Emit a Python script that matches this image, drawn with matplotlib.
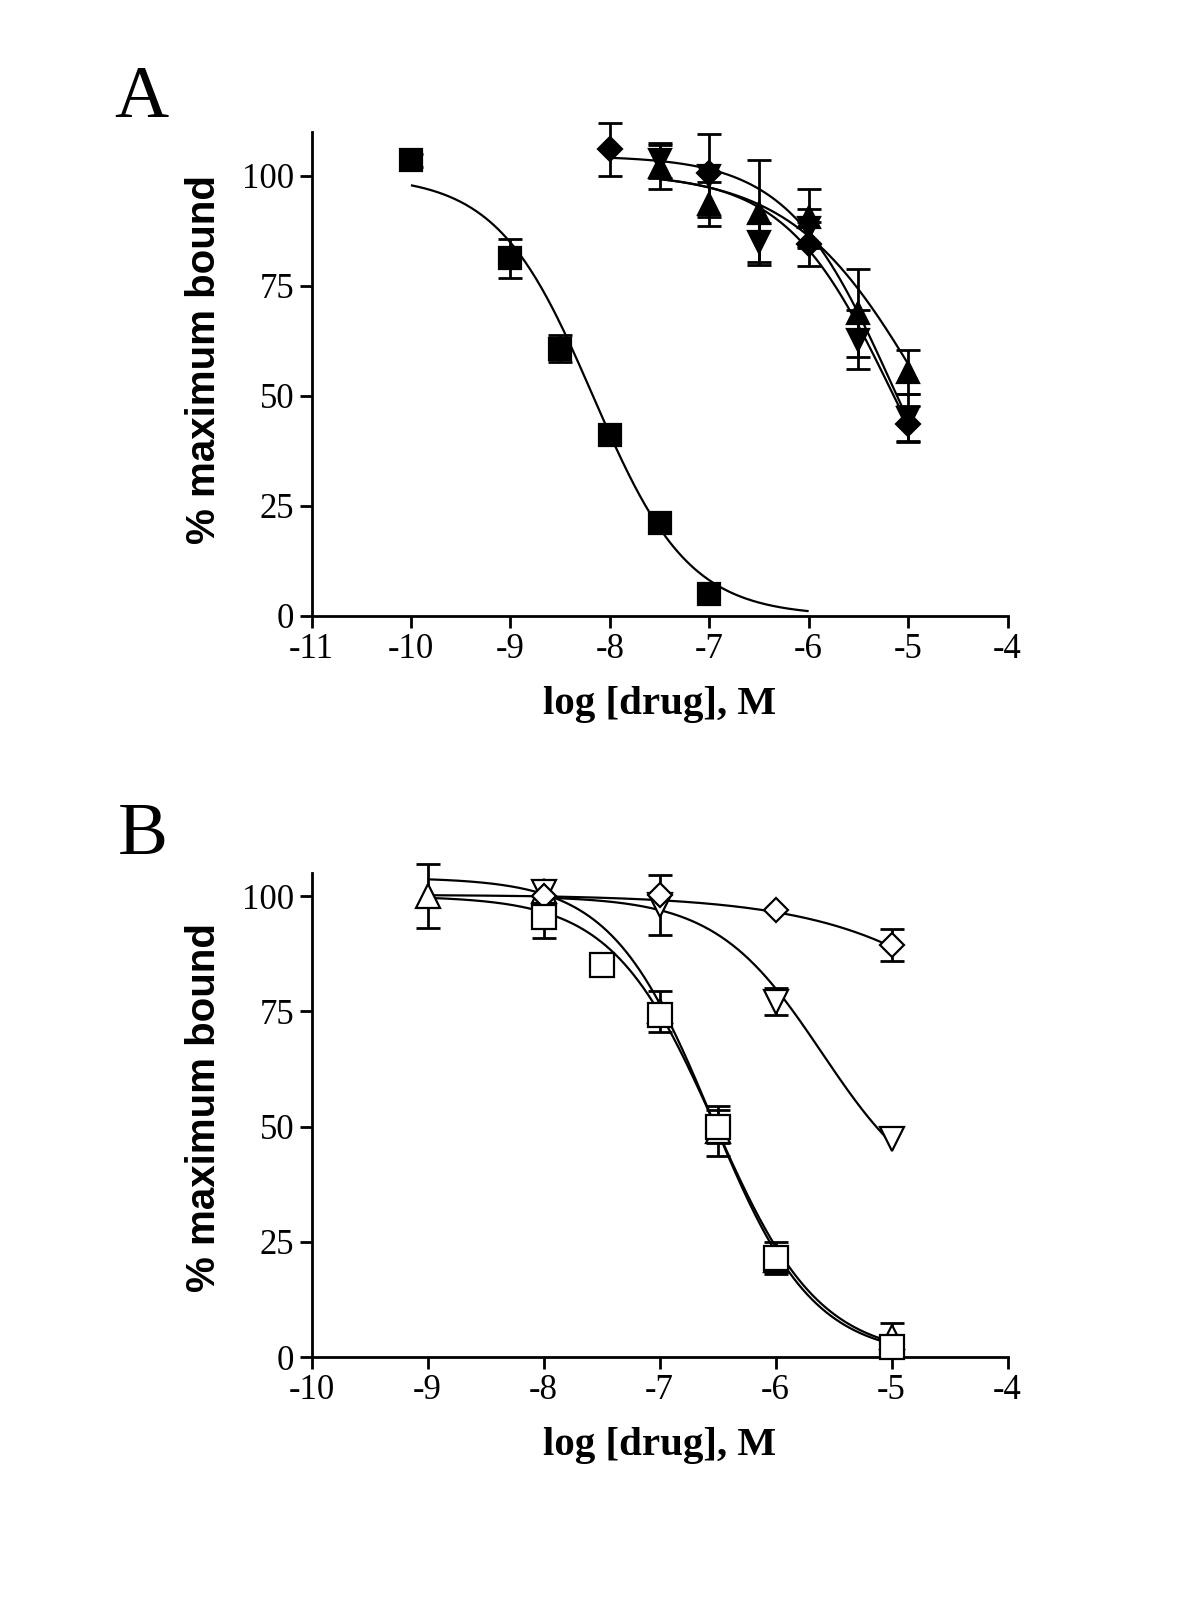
import numpy as np
import matplotlib
matplotlib.use("Agg")
import matplotlib.pyplot as plt

plt.rcParams['font.family'] = ['Liberation Serif', 'DejaVu Serif']
plt.rcParams['axes.unicode_minus'] = False

# ---------------- Panel A data (filled symbols) ----------------
a_sq_x = [-10, -9, -8.5, -8, -7.5, -7]
a_sq_y = [103.5, 81.2, 60.7, 41.2, 21.2, 4.9]
a_sq_e = [1.5, 4.5, 3.0, 0, 0, 0]

a_di_x = [-8, -7, -6, -5]
a_di_y = [106.0, 100.5, 84.4, 43.7]
a_di_e = [6.0, 0, 5.0, 4.0]

a_up_x = [-7.5, -7, -6.5, -6, -5.5, -5]
a_up_y = [102.0, 93.5, 91.6, 90.5, 68.8, 55.5]
a_up_e = [5.0, 5.0, 12.0, 6.5, 10.0, 5.0]

a_dn_x = [-7.5, -7, -6.5, -6, -5.5, -5]
a_dn_y = [103.5, 100.0, 84.8, 88.0, 62.7, 45.0]
a_dn_e = [4.0, 9.5, 4.5, 4.5, 6.7, 5.5]

# fitted curves: (x_start, x_end, top, bottom, logIC50, hill)
a_sq_fit = (-10, -6, 100, 0, -8.17, 0.90)
a_di_fit = (-8, -5, 104.5, 0, -5.157, 0.826)
a_up_fit = (-7.5, -5, 101, 0, -4.82, 0.65)
a_dn_fit = (-7.5, -5, 100.5, 0, -5.15, 0.80)

# ---------------- Panel B data (open symbols) ----------------
b_sq_x = [-8, -7.5, -7, -6.5, -6, -5]
b_sq_y = [95.5, 85.0, 74.2, 50.0, 21.4, 2.2]
b_sq_e = [4.5, 0, 0, 3.5, 3.5, 0]

b_up_x = [-9, -8, -7, -6.5, -6, -5]
b_up_y = [100.0, 101.0, 75.0, 49.0, 21.0, 4.4]
b_up_e = [7.0, 0, 4.5, 5.5, 2.5, 3.0]

b_dn_x = [-8, -7, -6, -5]
b_dn_y = [100.9, 98.0, 77.1, 47.4]
b_dn_e = [0, 6.5, 3.0, 0]

b_di_x = [-8, -7, -6, -5]
b_di_y = [100.0, 100.2, 97.0, 89.4]
b_di_e = [0, 0, 0, 3.4]

b_sq_fit = (-9, -5, 100, 0, -6.516, 0.97)
b_up_fit = (-9, -5, 104, 0, -6.55, 1.0)
b_dn_fit = (-8, -5, 100, 32, -5.6, 0.95)
b_di_fit = (-9, -5, 100.3, 0, -3.243, 0.51)

a_xticks = [-11, -10, -9, -8, -7, -6, -5, -4]
b_xticks = [-10, -9, -8, -7, -6, -5, -4]
yticks = [0, 25, 50, 75, 100]

W, H = 1200, 1600
fig = plt.figure(figsize=(12, 16), dpi=100)

axA = fig.add_axes([311.5 / W, 1 - 616 / H, 696 / W, (616 - 131.5) / H])
axB = fig.add_axes([311.5 / W, 1 - 1357 / H, 696 / W, (1357 - 873) / H])


def curve(ax, p):
    x0, x1, top, bot, c, h = p
    xs = np.linspace(x0, x1, 300)
    ys = bot + (top - bot) / (1 + 10 ** ((xs - c) * h))
    ax.plot(xs, ys, color='black', lw=1.6, zorder=2, solid_capstyle='butt')


def points(ax, x, y, e, marker, ms, filled, mew=1.6):
    x = np.asarray(x, float); y = np.asarray(y, float); e = np.asarray(e, float)
    m = e > 0
    if m.any():
        ax.errorbar(x[m], y[m], yerr=e[m], fmt='none', ecolor='black',
                    elinewidth=2.0, capsize=8.5, capthick=2.0, zorder=3)
    ax.plot(x, y, linestyle='none', marker=marker, markersize=ms,
            markerfacecolor='black' if filled else 'white',
            markeredgecolor='black', markeredgewidth=mew, zorder=4)


# Panel A
for p in (a_sq_fit, a_di_fit, a_up_fit, a_dn_fit):
    curve(axA, p)
points(axA, a_sq_x, a_sq_y, a_sq_e, 's', 16, True)
points(axA, a_up_x, a_up_y, a_up_e, '^', 16, True)
points(axA, a_dn_x, a_dn_y, a_dn_e, 'v', 16, True)
points(axA, a_di_x, a_di_y, a_di_e, 'D', 12, True)

# Panel B
for p in (b_sq_fit, b_up_fit, b_dn_fit, b_di_fit):
    curve(axB, p)
points(axB, b_up_x, b_up_y, b_up_e, '^', 17, False)
points(axB, b_dn_x, b_dn_y, b_dn_e, 'v', 17, False)
points(axB, b_di_x, b_di_y, b_di_e, 'D', 12, False)
points(axB, b_sq_x, b_sq_y, b_sq_e, 's', 17, False)

for ax, xt, xl, yl in ((axA, a_xticks, (-11, -4), (0, 110)),
                       (axB, b_xticks, (-10, -4), (0, 105))):
    ax.set_xlim(*xl)
    ax.set_ylim(*yl)
    ax.set_xticks(xt)
    ax.set_xticklabels([str(v) for v in xt])
    ax.set_yticks(yticks)
    ax.set_yticklabels([str(v) for v in yticks])
    for s in ('top', 'right'):
        ax.spines[s].set_visible(False)
    for s in ('left', 'bottom'):
        ax.spines[s].set_linewidth(2.0)
    ax.tick_params(axis='both', direction='out', length=8.5, width=2.0,
                   labelsize=25, pad=4)
    ax.patch.set_visible(False)
    ax.text(0.5, -0.182, 'log [drug], M', transform=ax.transAxes,
            ha='center', va='center', fontsize=29.5, fontweight='bold',
            family=['Liberation Serif', 'DejaVu Serif'])

axA.text(-0.154, 0.529, '% maximum bound', transform=axA.transAxes,
         rotation=90, ha='center', va='center', fontsize=29,
         fontweight='bold', family=['Liberation Sans', 'DejaVu Sans'])
axB.text(-0.154, 0.516, '% maximum bound', transform=axB.transAxes,
         rotation=90, ha='center', va='center', fontsize=29,
         fontweight='bold', family=['Liberation Sans', 'DejaVu Sans'])

fig.text(141 / W, 1 - 99 / H, 'A', ha='center', va='center', fontsize=54)
fig.text(143 / W, 1 - 836 / H, 'B', ha='center', va='center', fontsize=54)

for ax in (axA, axB):
    for art in ax.lines + ax.collections:
        art.set_clip_on(False)

fig.savefig('out.png', dpi=100, facecolor='white')
